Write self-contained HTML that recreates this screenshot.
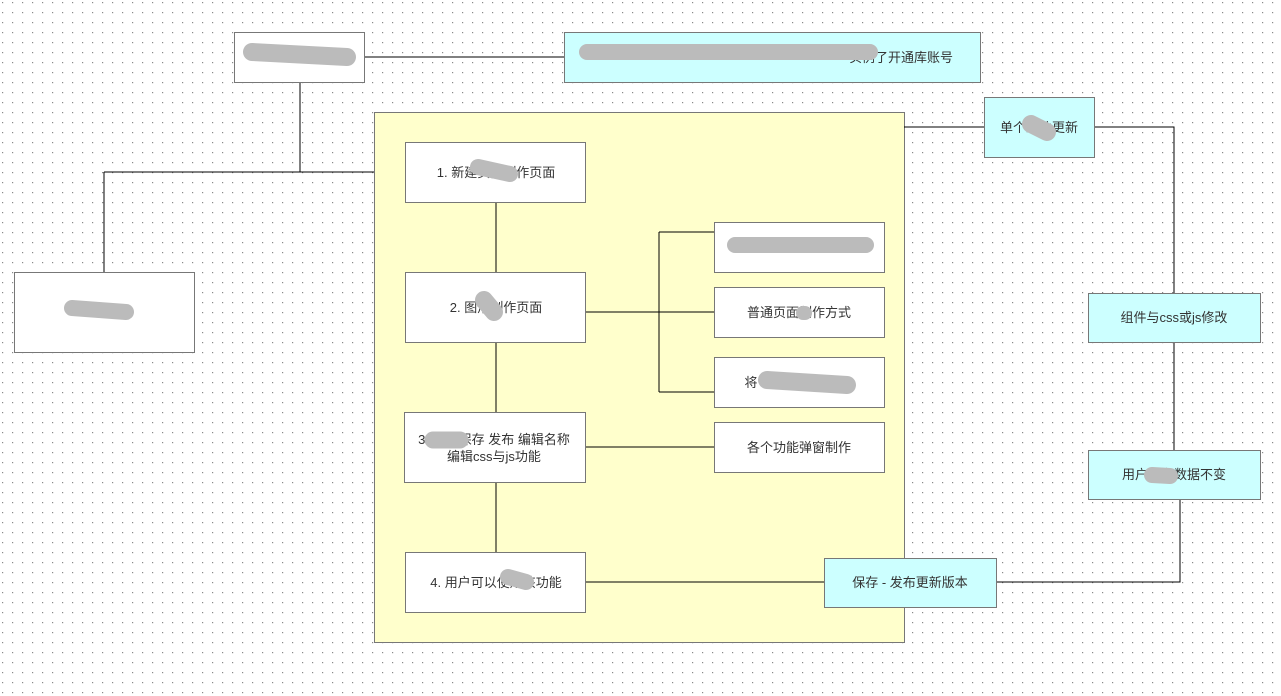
<!DOCTYPE html>
<html><head><meta charset="utf-8"><style>
html,body{margin:0;padding:0;background:#fff;}
svg{display:block;}
text{font-family:"Liberation Sans","Noto Sans CJK SC",sans-serif;font-size:13px;fill:#333;text-anchor:middle;}
</style></head><body>
<svg width="1281" height="696" xmlns="http://www.w3.org/2000/svg">
<defs><pattern id="g" x="2" y="2" width="10" height="10" patternUnits="userSpaceOnUse"><rect width="1.2" height="1.2" fill="#888"/></pattern></defs>
<rect width="1281" height="696" fill="#fff"/>
<rect width="1274" height="696" fill="url(#g)"/>
<g stroke="#000" stroke-width="1" fill="none">
<path d="M364 57H564M300 82V172M104 172H405M104 172V272"/>
</g>
<rect x="374.5" y="112.5" width="530" height="530" fill="#ffffcc" stroke="#777"/>
<g stroke="#000" stroke-width="1" fill="none">
<path d="M496 202V552M585 312H659M659 232V392M659 232H714M659 312H714M659 392H714M585 447H714M585 582H824M904 127H984M1094 127H1174V293M1174 342V450M1180 499V582H996"/>
</g>
<g stroke="#777" stroke-width="1">
<rect x="234.5" y="32.5" width="130" height="50" fill="#fff"/>
<rect x="564.5" y="32.5" width="416" height="50" fill="#ccffff"/>
<rect x="14.5" y="272.5" width="180" height="80" fill="#fff"/>
<rect x="405.5" y="142.5" width="180" height="60" fill="#fff"/>
<rect x="405.5" y="272.5" width="180" height="70" fill="#fff"/>
<rect x="404.5" y="412.5" width="181" height="70" fill="#fff"/>
<rect x="405.5" y="552.5" width="180" height="60" fill="#fff"/>
<rect x="714.5" y="222.5" width="170" height="50" fill="#fff"/>
<rect x="714.5" y="287.5" width="170" height="50" fill="#fff"/>
<rect x="714.5" y="357.5" width="170" height="50" fill="#fff"/>
<rect x="714.5" y="422.5" width="170" height="50" fill="#fff"/>
<rect x="984.5" y="97.5" width="110" height="60" fill="#ccffff"/>
<rect x="1088.5" y="293.5" width="172" height="49" fill="#ccffff"/>
<rect x="1088.5" y="450.5" width="172" height="49" fill="#ccffff"/>
<rect x="824.5" y="558.5" width="172" height="49" fill="#ccffff"/>
</g>
<text x="953" y="62" style="text-anchor:end">实例了开通库账号</text>
<text x="496" y="177">1. 新建页面制作页面</text>
<text x="496" y="312">2. 图形制作页面</text>
<text x="494" y="444">3. 页面保存 发布 编辑名称</text>
<text x="494" y="461">编辑css与js功能</text>
<text x="496" y="587">4. 用户可以使用该功能</text>
<text x="799" y="317">普通页面制作方式</text>
<text x="751" y="387">将</text>
<text x="799" y="452">各个功能弹窗制作</text>
<text x="1039" y="132">单个组件更新</text>
<text x="1174" y="322">组件与css或js修改</text>
<text x="1174" y="479">用户原有数据不变</text>
<text x="910" y="587">保存 - 发布更新版本</text>
<g stroke="#bbb" stroke-linecap="round" fill="none">
<path d="M252 52L347 57" stroke-width="18"/>
<path d="M587 52L870 52" stroke-width="16"/>
<path d="M72 308L126 312" stroke-width="16"/>
<path d="M478 167L510 174" stroke-width="16"/>
<path d="M484 300L494 312" stroke-width="18"/>
<path d="M433 440L460 440" stroke-width="17"/>
<path d="M508 577L526 582" stroke-width="16"/>
<path d="M735 245L866 245" stroke-width="16"/>
<path d="M803 313L805 313" stroke-width="14"/>
<path d="M767 380L847 385" stroke-width="18"/>
<path d="M1031 124L1047 132" stroke-width="18"/>
<path d="M1152 475L1170 476" stroke-width="16"/>
</g>
</svg>
</body></html>
